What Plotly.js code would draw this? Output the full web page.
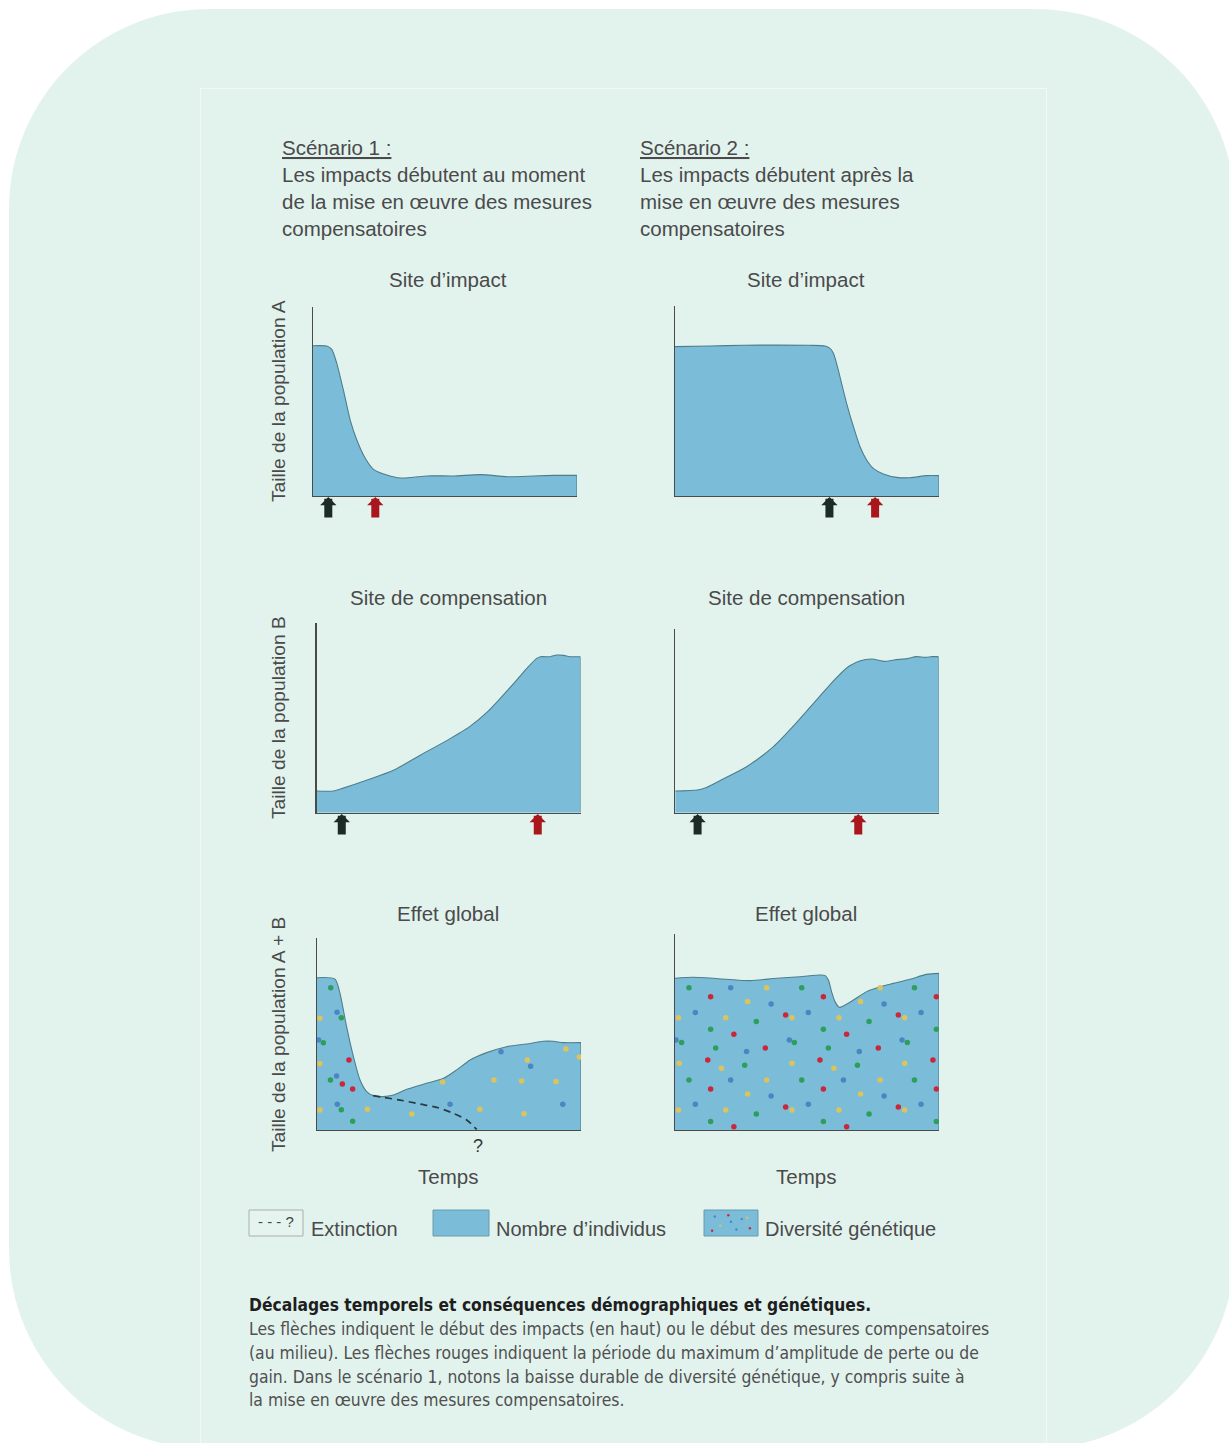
<!DOCTYPE html>
<html><head><meta charset="utf-8">
<script src="https://cdn.plot.ly/plotly-3.0.1.min.js"></script>
<style>
html,body{margin:0;padding:0;background:#fff;width:1229px;height:1443px;overflow:hidden}
#bg{position:absolute;left:9px;top:9px;width:1226px;height:1440px;border-radius:200px;background:#e2f3ee}
#inner{position:absolute;left:200px;top:88px;width:845px;height:1400px;border:1px solid rgba(255,255,255,0.5)}
#chart{position:absolute;left:0;top:0;width:1229px;height:1443px}
</style></head><body>
<div id="bg"></div><div id="inner"></div><div id="chart"></div>
<script>
// ---------- DATA (time 0-100, population 0-100) ----------
const timeImpactS1 = [0,5.2,7.1,9.0,11.5,14.1,16.6,19.8,22.9,28.0,33.1,38.1,43.2,53.4,63.5,73.6,83.8,91.4,100];
const popImpactS1  = [79.4,79.2,77.5,70.1,56.0,40.1,29.6,19.9,14.1,11.1,9.5,9.9,10.6,10.6,11.3,10.2,10.6,10.9,10.9];

const timeImpactS2 = [0,13.3,25.9,38.5,51.1,56.8,58.7,60.0,61.2,63.1,65.0,67.6,70.1,72.6,75.1,78.9,84.0,89.0,95.3,100];
const popImpactS2  = [78.5,78.8,79.2,79.3,79.2,78.8,77.6,75.0,69.7,59.2,48.7,36.4,25.9,18.9,14.5,11.6,9.8,9.6,10.7,10.7];

const timeCompS1 = [0,6.4,9.8,19.1,29.3,39.4,49.6,58.0,64.8,70.7,75.8,80.0,83.4,84.8,88.5,91.0,93.6,96.1,100];
const popCompS1  = [11.4,11.4,12.8,17.2,22.5,30.4,38.2,45.3,53.2,61.9,69.8,76.5,81.2,82.1,82.1,83.0,82.8,82.1,82.1];

const timeCompS2 = [0,8.5,11.9,18.6,27.1,37.3,45.8,54.2,61.0,66.1,70.3,74.6,79.7,83.1,88.1,91.5,94.9,97.5,100];
const popCompS2  = [11.8,12.4,13.8,18.7,25.1,36.0,48.7,62.4,73.3,80.0,82.9,83.8,82.5,83.3,84.0,85.1,84.7,85.1,85.1];

const timeGlobalS1 = [0,6.8,8.7,11.2,13.8,16.3,18.8,21.3,25.1,28.9,34.0,41.5,47.9,52.9,58.0,64.3,71.8,79.4,85.7,89.5,93.3,100];
const popGlobalS1  = [79.3,78.6,71.2,53.8,38.2,26.0,20.0,17.9,17.4,18.2,21.2,24.3,26.9,31.3,36.5,40.3,43.4,44.8,46.2,46.2,45.5,45.5];

const timeExtinction = [21.3,25.1,31.4,39.0,45.3,51.6,56.7,60.5];
const popExtinction  = [17.9,17.0,15.6,13.5,11.8,8.7,5.2,0.3];

const timeGlobalS2 = [0,6.9,19.6,28.4,38.5,47.3,54.9,56.8,58.1,59.3,60.6,62.2,63.8,67.6,72.6,77.7,82.7,89.0,95.3,100];
const popGlobalS2  = [77.4,77.9,76.9,76.2,77.4,78.2,79.1,78.9,76.5,70.6,65.5,62.6,63.3,66.3,70.6,73.1,74.8,76.9,79.4,79.9];

// arrows: start of impacts / compensation (black) and peak amplitude (red)
const impactStart = [5.8, 58.5];
const impactPeak  = [23.6, 75.8];
const compStart   = [9.5, 8.5];
const compPeak    = [83.8, 69.5];

// genetic diversity dots (time, population, allele colour)
const dotsS1X = [5.2,7.6,9.2,1.1,0.6,2.4,1.1,12.1,7.4,5.1,9.6,13.5,7.7,9.2,1.1,13.5,19.1,35.9,50.4,61.7,78.4,93.1,47.6,67.0,77.5,90.5,69.7,79.7,80.9,94.3,99.4];
const dotsS1Y = [74.1,61.3,58.5,58.2,46.9,45.5,34.7,36.5,28.1,26.0,24.0,21.4,13.4,10.6,10.4,4.5,10.8,8.3,13.4,10.8,8.5,13.4,25.0,26.0,25.5,25.2,40.8,36.5,33.2,42.2,38.0];
const dotsS1C = ['g','b','g','y','b','g','y','r','b','g','r','r','b','g','y','g','y','y','b','y','y','b','y','y','y','y','b','y','b','y','y'];

const dotsS2X = [5.3,21.1,34.7,48.0,77.7,90.7, 13.5,56.2,99.0, 27.5,70.3, 36.4,79.2, 7.7,50.5,93.2, 41.9,84.6,
  1.3,19.2,44.3,62.1,87.0, 30.8,73.5, 13.5,56.2,99.0, 22.3,65.0, 0.4,43.3,86.0, 2.5,45.2,88.0,
  15.4,34.2,58.1,77.0, 27.1,69.8, 12.4,54.9,97.7, 1.6,44.3,87.0, 26.4,69.1, 17.6,60.2,
  5.3,21.1,34.7,48.0,63.8,77.7,90.7, 13.5,56.2,99.0, 27.5,70.3, 36.4,79.2, 7.7,50.5,93.2, 41.9,84.6,
  1.3,19.2,44.3,62.1,87.0, 30.8,73.5, 13.5,56.2,99.0, 22.3,65.0];
const dotsS2Y = [72.6,72.6,72.6,72.6,72.6,72.6, 68.0,68.0,68.0, 65.5,65.5, 64.3,64.3, 60.0,60.0,60.0, 58.7,58.7,
  57.3,57.3,57.3,57.3,57.3, 55.3,55.3, 51.4,51.4,51.4, 48.8,48.8, 45.9,45.9,45.9, 44.6,44.6,44.6,
  41.8,41.8,41.8,41.8, 40.0,40.0, 35.7,35.7,35.7, 34.0,34.0,34.0, 33.0,33.0, 31.5,31.5,
  25.5,25.5,25.5,25.5,25.5,25.5,25.5, 20.9,20.9,20.9, 18.4,18.4, 17.3,17.3, 13.1,13.1,13.1, 11.7,11.7,
  10.2,10.2,10.2,10.2,10.2, 8.2,8.2, 4.3,4.3,4.3, 1.7,1.7];
const dotsS2C = ['g','b','y','g','y','g', 'r','r','r', 'y','y', 'b','b', 'b','b','b', 'r','r',
  'y','y','y','y','y', 'g','g', 'g','g','g', 'r','r', 'b','b','b', 'g','g','g',
  'g','r','g','r', 'b','b', 'r','r','r', 'y','y','y', 'g','g', 'y','y',
  'g','b','y','g','b','y','g', 'r','r','r', 'y','y', 'b','b', 'b','b','b', 'r','r',
  'y','y','y','y','y', 'g','g', 'g','g','g', 'r','r'];

// legend swatch dots (fraction of swatch)
const legendDotsX = [0.2,0.45,0.7,0.85,0.3,0.6,0.15,0.8,0.5];
const legendDotsY = [0.25,0.2,0.35,0.7,0.6,0.75,0.8,0.3,0.45];
const legendDotsC = ['b','r','b','r','y','b','r','y','b'];

// ---------- STYLE ----------
const W = 1229, H = 1443;
const FILL = '#7bbdd8', EDGE = '#4e7e8c', AXIS = '#4a4a4a';
const DOTCOL = {g:'#2e9e5c', r:'#c9283a', y:'#ddc35c', b:'#4a86c4'};
const TXT = '#4a4a4a';
const SANS = 'Liberation Sans, Arial, sans-serif';
const NARROW = 'DejaVu Sans Condensed, Liberation Sans Narrow, sans-serif';
const px = x => x / W, py = y => 1 - y / H;

// panel frames in page pixels (left, right, top, bottom)
const frames = [
  [313, 577, 306.7, 496],
  [675, 939, 305.7, 496],
  [316.7, 580.5, 622.7, 812.7],
  [675.2, 938.6, 629.3, 812.7],
  [317, 581, 938, 1130],
  [675, 939, 934, 1130]
];

const series = [
  [timeImpactS1, popImpactS1],
  [timeImpactS2, popImpactS2],
  [timeCompS1, popCompS1],
  [timeCompS2, popCompS2],
  [timeGlobalS1, popGlobalS1],
  [timeGlobalS2, popGlobalS2]
];

const traces = [];
const layout = {
  width: W, height: H, margin: {l:0, r:0, t:0, b:0},
  paper_bgcolor: 'rgba(0,0,0,0)', plot_bgcolor: 'rgba(0,0,0,0)',
  showlegend: false, annotations: [], shapes: [],
  font: {family: SANS, color: TXT}
};

frames.forEach((f, i) => {
  const n = i === 0 ? '' : String(i + 1);
  const xa = 'x' + n, ya = 'y' + n;
  layout['xaxis' + n] = {
    domain: [px(f[0]), px(f[1])], range: [0, 100], anchor: ya,
    showline: true, linecolor: AXIS, linewidth: 1.3, showgrid: false, zeroline: false,
    showticklabels: false, ticks: '', fixedrange: true
  };
  layout['yaxis' + n] = {
    domain: [py(f[3]), py(f[2])], range: [0, 100], anchor: xa,
    showline: true, linecolor: AXIS, linewidth: 1.3, showgrid: false, zeroline: false,
    showticklabels: false, ticks: '', fixedrange: true
  };
  const [tx, ty] = series[i];
  traces.push({
    x: tx, y: ty, xaxis: xa, yaxis: ya, type: 'scatter', mode: 'lines',
    fill: 'tozeroy', fillcolor: FILL,
    line: {color: EDGE, width: 1.1, shape: 'spline', smoothing: 0.7},
    hoverinfo: 'skip'
  });
  traces.push({
    x: [tx[tx.length - 1], tx[tx.length - 1]], y: [ty[ty.length - 1], 0],
    xaxis: xa, yaxis: ya, type: 'scatter', mode: 'lines',
    line: {color: EDGE, width: 1.1}, hoverinfo: 'skip'
  });
});

// diversity dots
traces.push({
  x: dotsS1X, y: dotsS1Y, xaxis: 'x5', yaxis: 'y5', type: 'scatter', mode: 'markers',
  marker: {size: 5.5, color: dotsS1C.map(c => DOTCOL[c]), line: {width: 0}}, hoverinfo: 'skip'
});
traces.push({
  x: dotsS2X, y: dotsS2Y, xaxis: 'x6', yaxis: 'y6', type: 'scatter', mode: 'markers',
  marker: {size: 5.5, color: dotsS2C.map(c => DOTCOL[c]), line: {width: 0}}, hoverinfo: 'skip'
});
// extinction path
traces.push({
  x: timeExtinction, y: popExtinction, xaxis: 'x5', yaxis: 'y5', type: 'scatter', mode: 'lines',
  line: {color: '#2b3a40', width: 1.7, dash: '7px,5px', shape: 'spline', smoothing: 0.8},
  hoverinfo: 'skip', cliponaxis: false
});

// arrows
function arrow(xref, xval, tipY, color) {
  layout.annotations.push({
    xref: xref, yref: 'paper', x: xval, y: py(tipY), text: '',
    showarrow: true, ax: 0, ay: 22, arrowcolor: color, arrowwidth: 8,
    arrowhead: 1, arrowsize: 0.34, standoff: 0
  });
}
const BLACK = '#1d2b27', RED = '#a9171c';
arrow('x', impactStart[0], 497, BLACK);
arrow('x', impactPeak[0], 497, RED);
arrow('x2', impactStart[1], 497, BLACK);
arrow('x2', impactPeak[1], 497, RED);
arrow('x3', compStart[0], 814, BLACK);
arrow('x3', compPeak[0], 814, RED);
arrow('x4', compStart[1], 814, BLACK);
arrow('x4', compPeak[1], 814, RED);

// text helper
function txt(text, x, y, opt) {
  opt = opt || {};
  layout.annotations.push(Object.assign({
    xref: 'paper', yref: 'paper', x: px(x), y: py(y), text: text, showarrow: false,
    xanchor: 'center', yanchor: 'middle',
    font: {family: SANS, size: 20.5, color: TXT}
  }, opt));
}

// headers
const head1 = ['<u>Scénario 1 :</u>', 'Les impacts débutent au moment', 'de la mise en œuvre des mesures', 'compensatoires'];
const head2 = ['<u>Scénario 2 :</u>', 'Les impacts débutent après la', 'mise en œuvre des mesures', 'compensatoires'];
const headY = [148, 174.5, 201, 228];
head1.forEach((t, k) => txt(t, 280, headY[k], {xanchor: 'left'}));
head2.forEach((t, k) => txt(t, 638, headY[k], {xanchor: 'left'}));

// panel titles
txt('Site d’impact', 448, 280);
txt('Site d’impact', 806, 280);
txt('Site de compensation', 448, 597);
txt('Site de compensation', 806, 597);
txt('Effet global', 448, 913);
txt('Effet global', 806, 913);
txt('Temps', 448, 1176);
txt('Temps', 806, 1176);
txt('?', 478, 1146, {font: {family: SANS, size: 18, color: '#333'}});

// y titles
const yt = {font: {family: SANS, size: 19.2, color: TXT}, textangle: -90};
txt('Taille de la population A', 278, 401, yt);
txt('Taille de la population B', 278, 718, yt);
txt('Taille de la population A + B', 278, 1035, yt);

// legend
function box(x0, x1, y0, y1, fill, line, dash) {
  layout.shapes.push({type: 'rect', xref: 'paper', yref: 'paper',
    x0: px(x0), x1: px(x1), y0: py(y1), y1: py(y0),
    fillcolor: fill, line: {color: line, width: 1, dash: dash || 'solid'}});
}
box(249, 303, 1210, 1236, 'rgba(255,255,255,0.15)', '#a8b0ae');
txt('- - - ?', 276, 1221, {font: {family: SANS, size: 15, color: '#444'}});
txt('Extinction', 309, 1229, {xanchor: 'left', font: {family: SANS, size: 20, color: TXT}});
box(433, 489, 1210, 1236, FILL, '#6a9aaa');
txt('Nombre d’individus', 494, 1229, {xanchor: 'left', font: {family: SANS, size: 20, color: TXT}});
box(704, 758, 1210, 1236, FILL, '#6a9aaa');
legendDotsX.forEach((fx, k) => {
  const cx = 704 + fx * 54, cy = 1210 + legendDotsY[k] * 26;
  layout.shapes.push({type: 'circle', xref: 'paper', yref: 'paper',
    x0: px(cx - 1.2), x1: px(cx + 1.2), y0: py(cy + 1.2), y1: py(cy - 1.2),
    fillcolor: DOTCOL[legendDotsC[k]], line: {width: 0}});
});
txt('Diversité génétique', 763, 1229, {xanchor: 'left', font: {family: SANS, size: 20, color: TXT}});

// caption
txt('<b>Décalages temporels et conséquences démographiques et génétiques.</b>', 247, 1305,
  {xanchor: 'left', font: {family: NARROW, size: 17.3, color: '#1e1e1e'}});
const cap = [
  'Les flèches indiquent le début des impacts (en haut) ou le début des mesures compensatoires',
  '(au milieu). Les flèches rouges indiquent la période du maximum d’amplitude de perte ou de',
  'gain. Dans le scénario 1, notons la baisse durable de diversité génétique, y compris suite à',
  'la mise en œuvre des mesures compensatoires.'
];
const capY = [1329, 1353, 1377, 1400];
cap.forEach((t, k) => txt(t, 247, capY[k], {xanchor: 'left', font: {family: NARROW, size: 17.4, color: '#505050'}}));

Plotly.newPlot('chart', traces, layout, {staticPlot: true, displayModeBar: false});
</script></body></html>
